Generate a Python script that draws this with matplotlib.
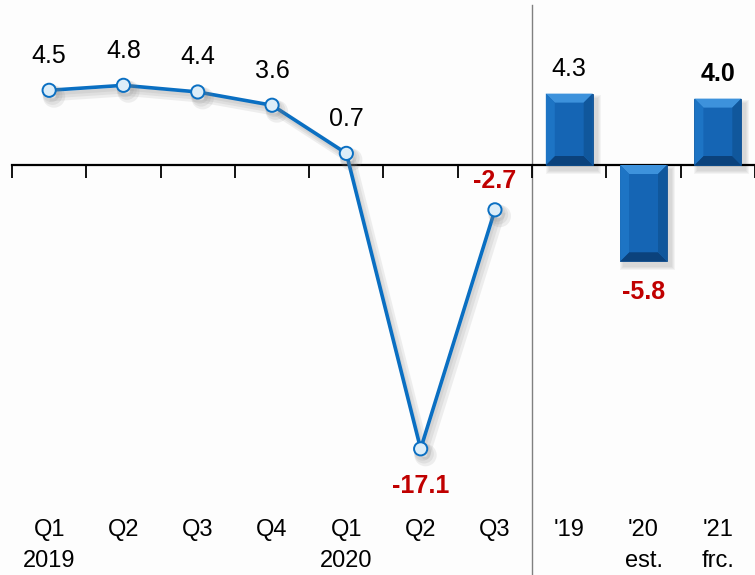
import matplotlib
matplotlib.use("Agg")
import matplotlib.pyplot as plt
import matplotlib.patheffects as pe
from matplotlib.patches import Polygon, Rectangle
import matplotlib.transforms as mtransforms

# quarterly growth (line) and yearly growth (bars)
qLabels = ["Q1", "Q2", "Q3", "Q4", "Q1", "Q2", "Q3"]
qSub = ["2019", "", "", "", "2020", "", ""]
qValues = [4.5, 4.8, 4.4, 3.6, 0.7, -17.1, -2.7]
yLabels = ["'19", "'20", "'21"]
ySub = ["", "est.", "frc."]
yValues = [4.3, -5.8, 4.0]
yBold = [False, False, True]

BLUE = "#0a6fc2"
RED = "#c00000"
narrow = ["Liberation Sans Narrow", "Liberation Sans", "DejaVu Sans"]
plt.rcParams['font.family'] = ["Liberation Sans", "DejaVu Sans"]

fig = plt.figure(figsize=(7.55, 5.75), dpi=100)
fig.patch.set_facecolor("#fdfdfd")
ax = fig.add_axes([12 / 755, 0, 1 - 12 / 755, 1])
ax.set_facecolor("#fdfdfd")
slot = 74.7
ax.set_xlim(-0.5, -0.5 + 743 / slot)
pxy = 16.6
ax.set_ylim(-(575 - 165) / pxy, 165 / pxy)

for s in ["left", "right", "top"]:
    ax.spines[s].set_visible(False)
ax.spines["bottom"].set_position(("data", 0))
ax.spines["bottom"].set_linewidth(1.6)
nAll = len(qValues) + len(yValues)
ax.set_xticks([i - 0.5 for i in range(nAll + 1)])
ax.tick_params(axis="x", direction="out", length=9, width=1.3, labelbottom=False)
ax.set_yticks([])

# divider between quarters and years
ax.axvline(len(qValues) - 0.5, ymin=0, ymax=1 - 5 / 575, color="#808080", lw=1, zorder=1)

# line with soft shadow
xq = list(range(len(qValues)))
shadow = [pe.SimpleLineShadow(offset=(1.5 + k, -2.5 - k), shadow_color="gray",
                              alpha=0.12, linewidth=2.6 + 2 * k) for k in range(3)]
ax.plot(xq, qValues, color=BLUE, lw=2.6, marker="o", ms=9.5, mfc="#dcedf8",
        mec=BLUE, mew=1.4, zorder=4, path_effects=shadow + [pe.Normal()])

for x, v in zip(xq, qValues):
    if v >= 0:
        ax.annotate(f"{v:.1f}", (x, v), xytext=(0, 25), textcoords="offset points",
                    ha="center", va="center", fontsize=18, color="black")
    else:
        off = 21 if x == len(qValues) - 1 else -27
        ax.annotate(f"{v:.1f}", (x, v), xytext=(0, off), textcoords="offset points",
                    ha="center", va="center", fontsize=18, color=RED, fontweight="bold")

# bevelled bars
bw = 0.63
bx = 9 / slot
by = 9 / pxy
xb = [len(qValues) + i for i in range(len(yValues))]
for x, v, b in zip(xb, yValues, yBold):
    x0, x1 = x - bw / 2, x + bw / 2
    top, bot = max(v, 0), min(v, 0)
    # blurred shadow
    for k in range(4):
        g = (1 + k) / slot
        gy = (1 + k) / pxy
        ax.add_patch(Rectangle((x0 + 4 / slot - g, bot - 5 / pxy - gy),
                               bw + 2 * g, top - bot + 2 * gy,
                               facecolor="gray", alpha=0.08, lw=0, zorder=2))
    ax.add_patch(Rectangle((x0, bot), bw, top - bot, facecolor="#1565b4",
                           edgecolor="#0e4f90", lw=0.6, zorder=3))
    ax.add_patch(Polygon([(x0, top), (x1, top), (x1 - bx, top - by), (x0 + bx, top - by)],
                         facecolor="#3d92dc", lw=0, zorder=3))
    ax.add_patch(Polygon([(x0, bot), (x1, bot), (x1 - bx, bot + by), (x0 + bx, bot + by)],
                         facecolor="#0b427c", lw=0, zorder=3))
    ax.add_patch(Polygon([(x0, top), (x0 + bx, top - by), (x0 + bx, bot + by), (x0, bot)],
                         facecolor="#1d74c4", lw=0, zorder=3))
    ax.add_patch(Polygon([(x1, top), (x1 - bx, top - by), (x1 - bx, bot + by), (x1, bot)],
                         facecolor="#10579c", lw=0, zorder=3))
    if v >= 0:
        ax.annotate(f"{v:.1f}", (x, v), xytext=(0, 18), textcoords="offset points",
                    ha="center", va="center", fontsize=18, color="black",
                    fontweight="bold" if b else "normal")
    else:
        ax.annotate(f"{v:.1f}", (x, v), xytext=(0, -22), textcoords="offset points",
                    ha="center", va="center", fontsize=18, color=RED, fontweight="bold")

# category labels at the bottom
trans = mtransforms.blended_transform_factory(ax.transData, ax.transAxes)
labels = qLabels + yLabels
subs = qSub + ySub
for i, (lab, sub) in enumerate(zip(labels, subs)):
    ax.text(i, 1 - 530 / 575, lab, transform=trans, ha="center", va="center",
            fontsize=17, family=narrow)
    if sub:
        ax.text(i, 1 - 561 / 575, sub, transform=trans, ha="center", va="center",
                fontsize=17, family=narrow)

fig.savefig("out.png", dpi=100, facecolor=fig.get_facecolor())
